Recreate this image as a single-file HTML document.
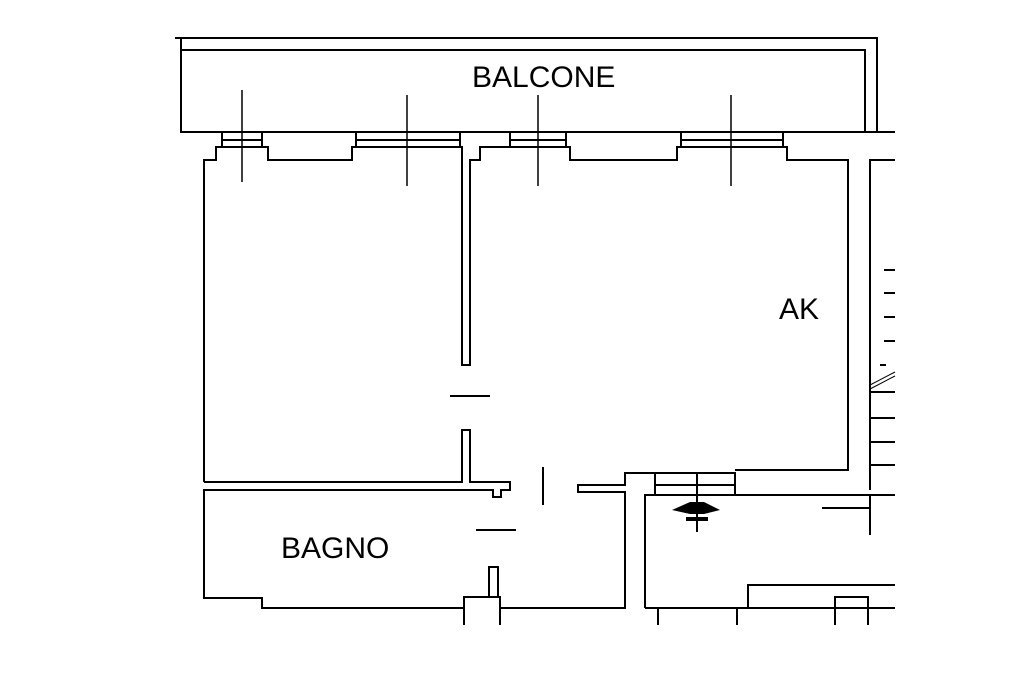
<!DOCTYPE html>
<html><head><meta charset="utf-8"><style>html,body{margin:0;padding:0;background:#fff}svg{display:block}</style></head>
<body>
<svg width="1024" height="683" viewBox="0 0 1024 683" xmlns="http://www.w3.org/2000/svg">
<g fill="none" stroke="#000" stroke-width="2">
<polyline points="175,38 877,38 877,132"/>
<polyline points="181,38 181,132 895,132"/>
<polyline points="181,50 865,50 865,132"/>
<polyline points="204,482 204,160 216,160 216,147 222,147 222,132"/>
<polyline points="262,132 262,147 268,147 268,160 352,160 352,147 356,147 356,132"/>
<polyline points="460,132 460,147 462,147 462,160 462,365 470,365 470,160 480,160 480,147 510,147 510,132"/>
<polyline points="566,132 566,147 570,147 570,160 677,160 677,147 681,147 681,132"/>
<polyline points="783,132 783,147 787,147 787,160 848,160 848,470 735,470"/>
<polyline points="870,490 870,160 895,160"/>
<rect x="222" y="140" width="40" height="7"/>
<rect x="356" y="140" width="104" height="7"/>
<rect x="510" y="140" width="56" height="7"/>
<rect x="681" y="140" width="102" height="7"/>
<line x1="242" y1="90" x2="242" y2="182" stroke-width="1.5"/>
<line x1="407" y1="95" x2="407" y2="186" stroke-width="1.5"/>
<line x1="538" y1="95" x2="538" y2="186" stroke-width="1.5"/>
<line x1="731" y1="95" x2="731" y2="186" stroke-width="1.5"/>
<polyline points="204,482 462,482 462,430 470,430 470,482 510,482 510,490 501,490 501,497 493,497 493,490 204,490 204,598 262,598 262,608 464,608 464,625"/>
<polyline points="500,625 500,608 625,608 625,492 578,492 578,485 625,485 625,473 655,473 655,495 735,495 735,473 655,473"/>
<line x1="655" y1="485" x2="735" y2="485"/>
<polyline points="464,608 464,597 500,597 500,608"/>
<rect x="489" y="567" width="9" height="30"/>
<line x1="450" y1="396" x2="490" y2="396"/>
<line x1="543" y1="467" x2="543" y2="505"/>
<line x1="476" y1="530" x2="516" y2="530"/>
<polyline points="645,608 645,495 895,495"/>
<line x1="870" y1="495" x2="870" y2="535"/>
<line x1="822" y1="508" x2="870" y2="508"/>
<line x1="645" y1="608" x2="895" y2="608"/>
<polyline points="748,608 748,585 895,585"/>
<polyline points="835,625 835,597 868,597 868,625"/>
<line x1="658" y1="608" x2="658" y2="625"/>
<line x1="737" y1="608" x2="737" y2="625"/>
<line x1="884" y1="270" x2="895" y2="270"/>
<line x1="884" y1="293" x2="895" y2="293"/>
<line x1="884" y1="317" x2="895" y2="317"/>
<line x1="884" y1="341" x2="895" y2="341"/>
<line x1="880" y1="365" x2="886" y2="365"/>
<line x1="870" y1="392" x2="895" y2="392"/>
<line x1="870" y1="418" x2="895" y2="418"/>
<line x1="870" y1="442" x2="895" y2="442"/>
<line x1="870" y1="465" x2="895" y2="465"/>
<line x1="870" y1="385" x2="895" y2="372" stroke-width="1"/>
<line x1="870" y1="389" x2="895" y2="376" stroke-width="1"/>
<line x1="697" y1="473" x2="697" y2="532"/>
</g>
<polygon points="672,510 690,502 704,502 720,510 704,514 690,514" fill="#000"/>
<rect x="686" y="517" width="22" height="4" fill="#000"/>
<g font-family="Liberation Sans, sans-serif" font-size="30" fill="#000">
<text x="472" y="87">BALCONE</text>
<text x="779" y="319">AK</text>
<text x="281" y="558">BAGNO</text>
</g>
</svg>
</body></html>
